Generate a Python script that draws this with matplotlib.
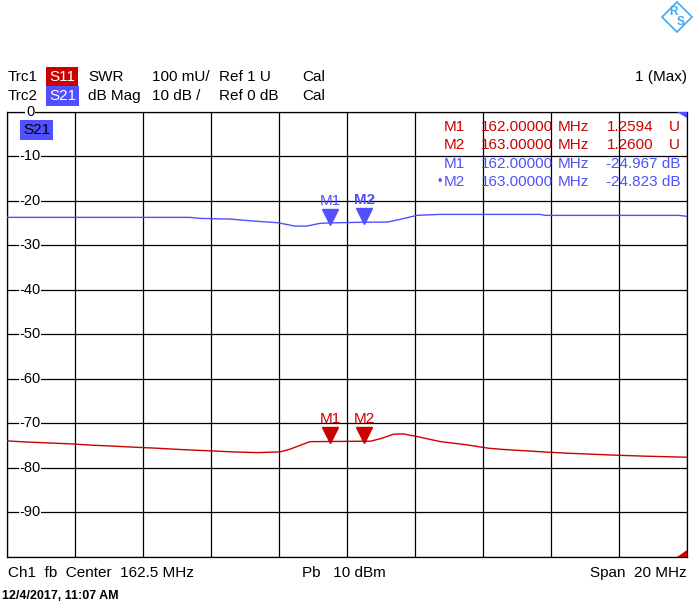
import matplotlib.pyplot as plt
import matplotlib.transforms as mtransforms
from matplotlib.patches import Polygon
import numpy as np

plt.rcParams['font.family'] = ['Liberation Sans', 'DejaVu Sans']

# S21 trace (dB Mag)
s21_freq = [152.5, 157.87, 158.16, 159.05, 159.63, 160.46, 160.96, 161.31, 161.69,
            162.0, 163.0, 163.67, 164.05, 164.55, 165.23, 168.17, 168.32, 172.26, 172.5]
s21_db = [-23.73, -23.73, -23.96, -24.11, -24.49, -24.94, -25.69, -25.69, -25.08,
          -24.967, -24.823, -24.79, -24.18, -23.28, -23.06, -23.06, -23.28, -23.28, -23.51]

# S11 trace (SWR)
s11_freq = [152.5, 153.02, 153.70, 154.40, 155.02, 155.67, 156.26, 156.90, 157.43,
            158.02, 158.55, 159.14, 159.84, 160.52, 160.81, 161.4, 162.0, 163.0, 163.18,
            163.48, 163.86, 164.15, 164.56, 165.24, 166.03, 166.65, 167.0, 167.45,
            167.95, 168.42, 169.0, 169.71, 170.44, 171.32, 172.5]
s11_swr = [1.2607, 1.2584, 1.2562, 1.2539, 1.2510, 1.2488, 1.2465, 1.2443, 1.2420,
           1.2398, 1.2382, 1.2360, 1.2344, 1.2360, 1.2420, 1.2590, 1.2594, 1.2600, 1.2600,
           1.2658, 1.2757, 1.2764, 1.2703, 1.2591, 1.2517, 1.2443, 1.2420, 1.2398,
           1.2375, 1.2353, 1.2330, 1.2308, 1.2285, 1.2263, 1.2240]

marker_names = ["M1", "M2"]
marker_freq = [162.0, 163.0]
marker_swr = [1.2594, 1.2600]
marker_db = [-24.967, -24.823]

db_ticks = [0, -10, -20, -30, -40, -50, -60, -70, -80, -90]

RED = '#CC0000'
BLUE = '#5050FF'
W, H = 695, 613

fig = plt.figure(figsize=(W / 100, H / 100), dpi=100)


def ftext(px, py, s, **kw):
    # place text using screen pixel coordinates (origin top-left)
    kw.setdefault('va', 'center')
    kw.setdefault('fontsize', 11)
    return fig.text(px / W, 1 - py / H, s, **kw)


ax = fig.add_axes([7.3 / W, 1 - 557 / H, 680 / W, 445.3 / H])
ax2 = ax.twinx()

ax.set_xlim(152.5, 172.5)
ax.set_ylim(-100, 0)
ax2.set_ylim(1.0, 2.0)
ax.set_xticks(np.linspace(152.5, 172.5, 11))
ax.set_yticks(np.arange(-100, 1, 10))
ax.grid(True, color='black', linewidth=0.9)
ax.tick_params(length=0, labelleft=False, labelbottom=False)
ax2.tick_params(length=0, labelright=False)
for sp in ax.spines.values():
    sp.set_linewidth(0.9)
for sp in ax2.spines.values():
    sp.set_visible(False)

ax.plot(s21_freq, s21_db, color=BLUE, linewidth=1.0, zorder=3)
ax2.plot(s11_freq, s11_swr, color=RED, linewidth=1.0, zorder=3)

# y labels sitting on the grid lines (drawn on the top axes so nothing covers them)
for v in db_ticks:
    ax2.text(0.0335, 2.0 + v / 100.0, str(v), transform=ax2.get_yaxis_transform(),
             ha='center', va='center', fontsize=10.5,
             bbox=dict(facecolor='white', edgecolor='none', pad=0.5), zorder=5)

# trace markers
for a, vals, col in ((ax, marker_db, BLUE), (ax2, marker_swr, RED)):
    tri = mtransforms.offset_copy(a.transData, fig=fig, y=6, units='dots')
    lab = mtransforms.offset_copy(a.transData, fig=fig, y=22, units='dots')
    for i, name in enumerate(marker_names):
        a.plot(marker_freq[i], vals[i], marker='v', markersize=11.5, color=col,
               transform=tri, zorder=6, clip_on=False)
        bold = 'bold' if (col == BLUE and name == 'M2') else 'normal'
        a.text(marker_freq[i], vals[i], name, transform=lab, ha='center', va='center',
               color=col, fontsize=11, fontweight=bold, zorder=6)

# corner triangles
fig.patches.append(Polygon([[677 / W, 1 - 111.7 / H], [687.3 / W, 1 - 111.7 / H], [687.3 / W, 1 - 118 / H]],
                           closed=True, facecolor=BLUE, edgecolor='none', transform=fig.transFigure))
fig.patches.append(Polygon([[677 / W, 1 - 557 / H], [687.3 / W, 1 - 557 / H], [687.3 / W, 1 - 550 / H]],
                           closed=True, facecolor=RED, edgecolor='none', transform=fig.transFigure))

# header
ftext(8, 77, "Trc1")
ftext(8, 96, "Trc2")
ftext(49, 77, "S11", color='white', bbox=dict(facecolor=RED, edgecolor='none', pad=2.3))
ftext(49, 96, "S21", color='white', bbox=dict(facecolor=BLUE, edgecolor='none', pad=2.3))
ftext(88, 77, "SWR")
ftext(88, 96, "dB Mag")
ftext(152, 77, "100 mU/")
ftext(152, 96, "10 dB /")
ftext(219, 77, "Ref 1 U")
ftext(219, 96, "Ref 0 dB")
ftext(302, 77, "Cal")
ftext(302, 96, "Cal")
ftext(687, 77, "1 (Max)", ha='right')

ftext(23, 130, "S21", color='black', bbox=dict(facecolor=BLUE, edgecolor='none', pad=2.0))

# marker table
rows_y = [127, 145, 164.5, 182.5]
for i, name in enumerate(marker_names):
    y = rows_y[i]
    ftext(465, y, name, ha='right', color=RED)
    ftext(481, y, f"{marker_freq[i]:.5f}", color=RED)
    ftext(558, y, "MHz", color=RED)
    ftext(654, y, f"{marker_swr[i]:.4f}", ha='right', color=RED)
    ftext(669, y, "U", color=RED)
for i, name in enumerate(marker_names):
    y = rows_y[2 + i]
    ftext(465, y, name, ha='right', color=BLUE)
    ftext(481, y, f"{marker_freq[i]:.5f}", color=BLUE)
    ftext(558, y, "MHz", color=BLUE)
    ftext(680, y, f"{marker_db[i]:.3f} dB", ha='right', color=BLUE)
ftext(440, rows_y[3], "\u2022", ha='center', color=BLUE, fontsize=9)

# footer
ftext(8, 573, "Ch1  fb  Center  162.5 MHz")
ftext(302, 573, "Pb   10 dBm")
ftext(687, 573, "Span  20 MHz", ha='right')
ftext(2, 596, "12/4/2017, 11:07 AM", fontsize=9, fontweight='bold')

# R&S logo (rough)
cx, cy, r = 677, 17, 15
fig.patches.append(Polygon([[cx / W, 1 - (cy - r) / H], [(cx + r) / W, 1 - cy / H],
                            [cx / W, 1 - (cy + r) / H], [(cx - r) / W, 1 - cy / H]],
                           closed=True, facecolor='white', edgecolor='#3FA9F5', linewidth=1.2,
                           transform=fig.transFigure))
ftext(674, 12, "R", color='#3FA9F5', ha='center', fontsize=8.5, fontweight='bold')
ftext(681, 22, "S", color='#3FA9F5', ha='center', fontsize=8.5, fontweight='bold')

fig.savefig("out.png", dpi=100)
